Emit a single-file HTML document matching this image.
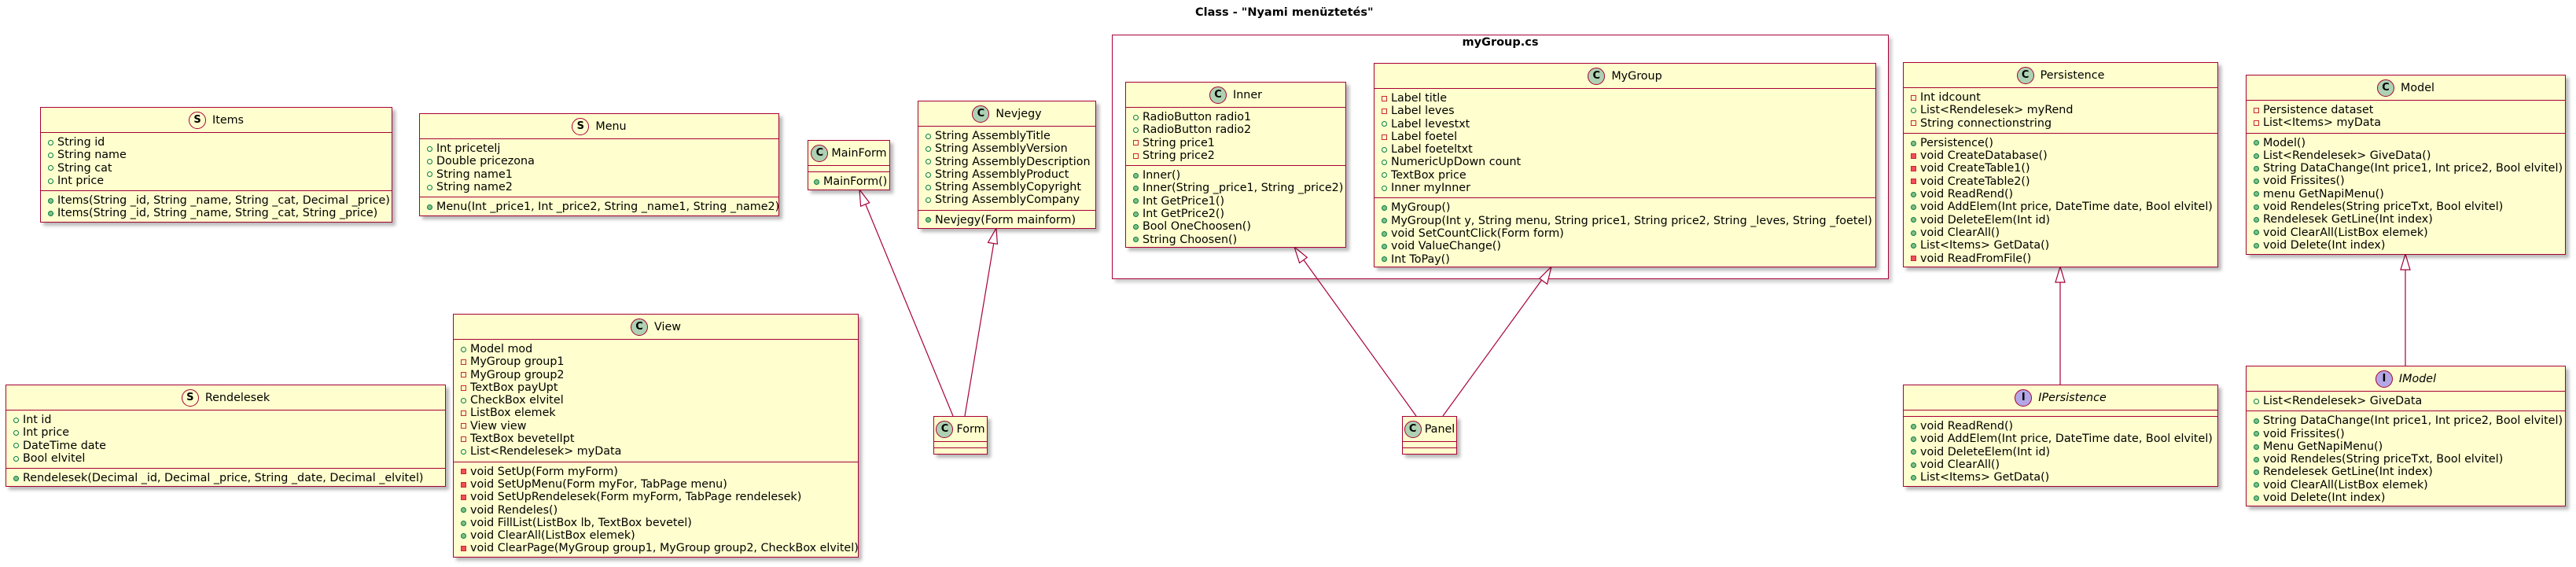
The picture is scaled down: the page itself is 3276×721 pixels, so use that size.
<!DOCTYPE html>
<html><head><meta charset="utf-8">
<style>
html,body{margin:0;padding:0;background:#fff;}
body{width:3276px;height:721px;position:relative;overflow:hidden;font-family:"DejaVu Sans","Liberation Sans",sans-serif;font-size:14.3px;color:#000;}
.box{position:absolute;box-sizing:border-box;background:#FEFECE;border:1.5px solid #A80036;box-shadow:4px 4px 4px rgba(0,0,0,0.28);}
.hd{height:31px;display:flex;align-items:center;justify-content:center;gap:8px;white-space:nowrap;}
.ic{width:20px;height:20px;border-radius:50%;border:1.5px solid #A80036;display:flex;align-items:center;justify-content:center;font-weight:bold;font-size:13px;flex:none;}
.c{background:#ADD1B2}.s{background:#FEFECE}.i{background:#B4A7E5}
.sec{border-top:1.5px solid #A80036;padding:4px 0 4px 0;}
.sec.e{height:7px;padding:0}
.r{height:16.3px;line-height:16.3px;white-space:nowrap;padding-left:9px;display:flex;align-items:center;}
.r b{display:inline-block;flex:none;margin-right:5px;box-sizing:border-box;}
.pf{width:7px;height:7px;border-radius:50%;border:1px solid #038048;}
.pm{width:7px;height:7px;border-radius:50%;border:1px solid #038048;background:#84BE84;}
.vf{width:7px;height:7px;border:1px solid #C82930;}
.vm{width:7px;height:7px;border:1px solid #C82930;background:#F24D5C;}
.it{font-style:italic}
</style></head><body>
<div style="position:absolute;left:0;top:8px;width:3276px;font-weight:bold;font-size:14.5px;"><span style="position:absolute;left:1520px;">Class - "Nyami menüztetés"</span></div>

<!-- package -->
<div style="position:absolute;left:1414px;top:44px;width:988px;height:311px;box-sizing:border-box;border:1.5px solid #A80036;box-shadow:4px 4px 4px rgba(0,0,0,0.2);background:#fff;"></div>
<div style="position:absolute;left:1414px;top:46px;width:988px;text-align:center;font-weight:bold;font-size:14.5px;">myGroup.cs</div>

<svg style="position:absolute;left:0;top:0" width="3276" height="721">
<g stroke="#A80036" stroke-width="1.2" fill="none">
<line x1="1212" y1="529" x2="1093" y2="241"/>
<line x1="1227" y1="529" x2="1267" y2="290"/>
<line x1="1801" y1="529" x2="1646" y2="314"/>
<line x1="1835" y1="529" x2="1973" y2="339"/>
<line x1="2620" y1="489" x2="2620" y2="339"/>
<line x1="3059" y1="465" x2="3059" y2="323"/>
</g>
<g stroke="#A80036" stroke-width="1.2" fill="#fff">
<polygon points="1093,241 1094.6,262.3 1105.7,257.7"/>
<polygon points="1267,290 1256.5,308.4 1268.4,310.3"/>
<polygon points="1646,314 1652.6,334.3 1662.3,327.3"/>
<polygon points="1973,339 1957.9,354.1 1967.6,361.2"/>
<polygon points="2620,339 2614,359 2626,359"/>
<polygon points="3059,323 3053,343 3065,343"/>
</g>
</svg>

<!-- Items -->
<div class="box" style="left:51px;top:136px;width:448px;height:147px;">
<div class="hd"><span class="ic s">S</span><span>Items</span></div>
<div class="sec">
<div class="r"><b class="pf"></b>String id</div>
<div class="r"><b class="pf"></b>String name</div>
<div class="r"><b class="pf"></b>String cat</div>
<div class="r"><b class="pf"></b>Int price</div>
</div>
<div class="sec">
<div class="r"><b class="pm"></b>Items(String _id, String _name, String _cat, Decimal _price)</div>
<div class="r"><b class="pm"></b>Items(String _id, String _name, String _cat, String _price)</div>
</div></div>

<!-- Menu -->
<div class="box" style="left:533px;top:144px;width:458px;height:131px;">
<div class="hd"><span class="ic s">S</span><span>Menu</span></div>
<div class="sec">
<div class="r"><b class="pf"></b>Int pricetelj</div>
<div class="r"><b class="pf"></b>Double pricezona</div>
<div class="r"><b class="pf"></b>String name1</div>
<div class="r"><b class="pf"></b>String name2</div>
</div>
<div class="sec">
<div class="r"><b class="pm"></b>Menu(Int _price1, Int _price2, String _name1, String _name2)</div>
</div></div>

<!-- MainForm -->
<div class="box" style="left:1027px;top:178px;width:105px;height:64px;">
<div class="hd" style="gap:4px"><span class="ic c">C</span><span>MainForm</span></div>
<div class="sec e"></div>
<div class="sec">
<div class="r" style="padding-left:7px"><b class="pm"></b>MainForm()</div>
</div></div>

<!-- Nevjegy -->
<div class="box" style="left:1167px;top:128px;width:227px;height:163px;">
<div class="hd"><span class="ic c">C</span><span>Nevjegy</span></div>
<div class="sec">
<div class="r"><b class="pf"></b>String AssemblyTitle</div>
<div class="r"><b class="pf"></b>String AssemblyVersion</div>
<div class="r"><b class="pf"></b>String AssemblyDescription</div>
<div class="r"><b class="pf"></b>String AssemblyProduct</div>
<div class="r"><b class="pf"></b>String AssemblyCopyright</div>
<div class="r"><b class="pf"></b>String AssemblyCompany</div>
</div>
<div class="sec">
<div class="r"><b class="pm"></b>Nevjegy(Form mainform)</div>
</div></div>

<!-- View -->
<div class="box" style="left:576px;top:399px;width:516px;height:310px;">
<div class="hd"><span class="ic c">C</span><span>View</span></div>
<div class="sec">
<div class="r"><b class="pf"></b>Model mod</div>
<div class="r"><b class="vf"></b>MyGroup group1</div>
<div class="r"><b class="vf"></b>MyGroup group2</div>
<div class="r"><b class="vf"></b>TextBox payUpt</div>
<div class="r"><b class="pf"></b>CheckBox elvitel</div>
<div class="r"><b class="vf"></b>ListBox elemek</div>
<div class="r"><b class="vf"></b>View view</div>
<div class="r"><b class="vf"></b>TextBox bevetelIpt</div>
<div class="r"><b class="pf"></b>List&lt;Rendelesek&gt; myData</div>
</div>
<div class="sec">
<div class="r"><b class="vm"></b>void SetUp(Form myForm)</div>
<div class="r"><b class="vm"></b>void SetUpMenu(Form myFor, TabPage menu)</div>
<div class="r"><b class="vm"></b>void SetUpRendelesek(Form myForm, TabPage rendelesek)</div>
<div class="r"><b class="pm"></b>void Rendeles()</div>
<div class="r"><b class="pm"></b>void FillList(ListBox lb, TextBox bevetel)</div>
<div class="r"><b class="pm"></b>void ClearAll(ListBox elemek)</div>
<div class="r"><b class="vm"></b>void ClearPage(MyGroup group1, MyGroup group2, CheckBox elvitel)</div>
</div></div>

<!-- Rendelesek -->
<div class="box" style="left:7px;top:489px;width:560px;height:130px;">
<div class="hd"><span class="ic s">S</span><span>Rendelesek</span></div>
<div class="sec">
<div class="r"><b class="pf"></b>Int id</div>
<div class="r"><b class="pf"></b>Int price</div>
<div class="r"><b class="pf"></b>DateTime date</div>
<div class="r"><b class="pf"></b>Bool elvitel</div>
</div>
<div class="sec">
<div class="r"><b class="pm"></b>Rendelesek(Decimal _id, Decimal _price, String _date, Decimal _elvitel)</div>
</div></div>

<!-- Form -->
<div class="box" style="left:1187px;top:529px;width:69px;height:49px;">
<div class="hd" style="gap:4px"><span class="ic c">C</span><span>Form</span></div>
<div class="sec e"></div>
<div class="sec e"></div>
</div>

<!-- Inner -->
<div class="box" style="left:1431px;top:104px;width:281px;height:211px;">
<div class="hd"><span class="ic c">C</span><span>Inner</span></div>
<div class="sec">
<div class="r"><b class="pf"></b>RadioButton radio1</div>
<div class="r"><b class="pf"></b>RadioButton radio2</div>
<div class="r"><b class="vf"></b>String price1</div>
<div class="r"><b class="vf"></b>String price2</div>
</div>
<div class="sec">
<div class="r"><b class="pm"></b>Inner()</div>
<div class="r"><b class="pm"></b>Inner(String _price1, String _price2)</div>
<div class="r"><b class="pm"></b>Int GetPrice1()</div>
<div class="r"><b class="pm"></b>Int GetPrice2()</div>
<div class="r"><b class="pm"></b>Bool OneChoosen()</div>
<div class="r"><b class="pm"></b>String Choosen()</div>
</div></div>

<!-- MyGroup -->
<div class="box" style="left:1747px;top:80px;width:639px;height:260px;">
<div class="hd"><span class="ic c">C</span><span>MyGroup</span></div>
<div class="sec">
<div class="r"><b class="vf"></b>Label title</div>
<div class="r"><b class="vf"></b>Label leves</div>
<div class="r"><b class="pf"></b>Label levestxt</div>
<div class="r"><b class="vf"></b>Label foetel</div>
<div class="r"><b class="pf"></b>Label foeteltxt</div>
<div class="r"><b class="pf"></b>NumericUpDown count</div>
<div class="r"><b class="pf"></b>TextBox price</div>
<div class="r"><b class="pf"></b>Inner myInner</div>
</div>
<div class="sec">
<div class="r"><b class="pm"></b>MyGroup()</div>
<div class="r"><b class="pm"></b>MyGroup(Int y, String menu, String price1, String price2, String _leves, String _foetel)</div>
<div class="r"><b class="pm"></b>void SetCountClick(Form form)</div>
<div class="r"><b class="pm"></b>void ValueChange()</div>
<div class="r"><b class="pm"></b>Int ToPay()</div>
</div></div>

<!-- Panel -->
<div class="box" style="left:1783px;top:529px;width:70px;height:49px;">
<div class="hd" style="gap:4px"><span class="ic c">C</span><span>Panel</span></div>
<div class="sec e"></div>
<div class="sec e"></div>
</div>

<!-- Persistence -->
<div class="box" style="left:2420px;top:79px;width:401px;height:261px;">
<div class="hd"><span class="ic c">C</span><span>Persistence</span></div>
<div class="sec">
<div class="r"><b class="vf"></b>Int idcount</div>
<div class="r"><b class="pf"></b>List&lt;Rendelesek&gt; myRend</div>
<div class="r"><b class="vf"></b>String connectionstring</div>
</div>
<div class="sec">
<div class="r"><b class="pm"></b>Persistence()</div>
<div class="r"><b class="vm"></b>void CreateDatabase()</div>
<div class="r"><b class="vm"></b>void CreateTable1()</div>
<div class="r"><b class="vm"></b>void CreateTable2()</div>
<div class="r"><b class="pm"></b>void ReadRend()</div>
<div class="r"><b class="pm"></b>void AddElem(Int price, DateTime date, Bool elvitel)</div>
<div class="r"><b class="pm"></b>void DeleteElem(Int id)</div>
<div class="r"><b class="pm"></b>void ClearAll()</div>
<div class="r"><b class="pm"></b>List&lt;Items&gt; GetData()</div>
<div class="r"><b class="vm"></b>void ReadFromFile()</div>
</div></div>

<!-- IPersistence -->
<div class="box" style="left:2420px;top:489px;width:401px;height:130px;">
<div class="hd"><span class="ic i">I</span><span class="it">IPersistence</span></div>
<div class="sec e"></div>
<div class="sec">
<div class="r"><b class="pm"></b>void ReadRend()</div>
<div class="r"><b class="pm"></b>void AddElem(Int price, DateTime date, Bool elvitel)</div>
<div class="r"><b class="pm"></b>void DeleteElem(Int id)</div>
<div class="r"><b class="pm"></b>void ClearAll()</div>
<div class="r"><b class="pm"></b>List&lt;Items&gt; GetData()</div>
</div></div>

<!-- Model -->
<div class="box" style="left:2856px;top:95px;width:407px;height:229px;">
<div class="hd"><span class="ic c">C</span><span>Model</span></div>
<div class="sec">
<div class="r"><b class="vf"></b>Persistence dataset</div>
<div class="r"><b class="vf"></b>List&lt;Items&gt; myData</div>
</div>
<div class="sec">
<div class="r"><b class="pm"></b>Model()</div>
<div class="r"><b class="pm"></b>List&lt;Rendelesek&gt; GiveData()</div>
<div class="r"><b class="pm"></b>String DataChange(Int price1, Int price2, Bool elvitel)</div>
<div class="r"><b class="pm"></b>void Frissites()</div>
<div class="r"><b class="pm"></b>menu GetNapiMenu()</div>
<div class="r"><b class="pm"></b>void Rendeles(String priceTxt, Bool elvitel)</div>
<div class="r"><b class="pm"></b>Rendelesek GetLine(Int index)</div>
<div class="r"><b class="pm"></b>void ClearAll(ListBox elemek)</div>
<div class="r"><b class="pm"></b>void Delete(Int index)</div>
</div></div>

<!-- IModel -->
<div class="box" style="left:2856px;top:465px;width:407px;height:179px;">
<div class="hd"><span class="ic i">I</span><span class="it">IModel</span></div>
<div class="sec">
<div class="r"><b class="pf"></b>List&lt;Rendelesek&gt; GiveData</div>
</div>
<div class="sec">
<div class="r"><b class="pm"></b>String DataChange(Int price1, Int price2, Bool elvitel)</div>
<div class="r"><b class="pm"></b>void Frissites()</div>
<div class="r"><b class="pm"></b>Menu GetNapiMenu()</div>
<div class="r"><b class="pm"></b>void Rendeles(String priceTxt, Bool elvitel)</div>
<div class="r"><b class="pm"></b>Rendelesek GetLine(Int index)</div>
<div class="r"><b class="pm"></b>void ClearAll(ListBox elemek)</div>
<div class="r"><b class="pm"></b>void Delete(Int index)</div>
</div></div>

</body></html>
